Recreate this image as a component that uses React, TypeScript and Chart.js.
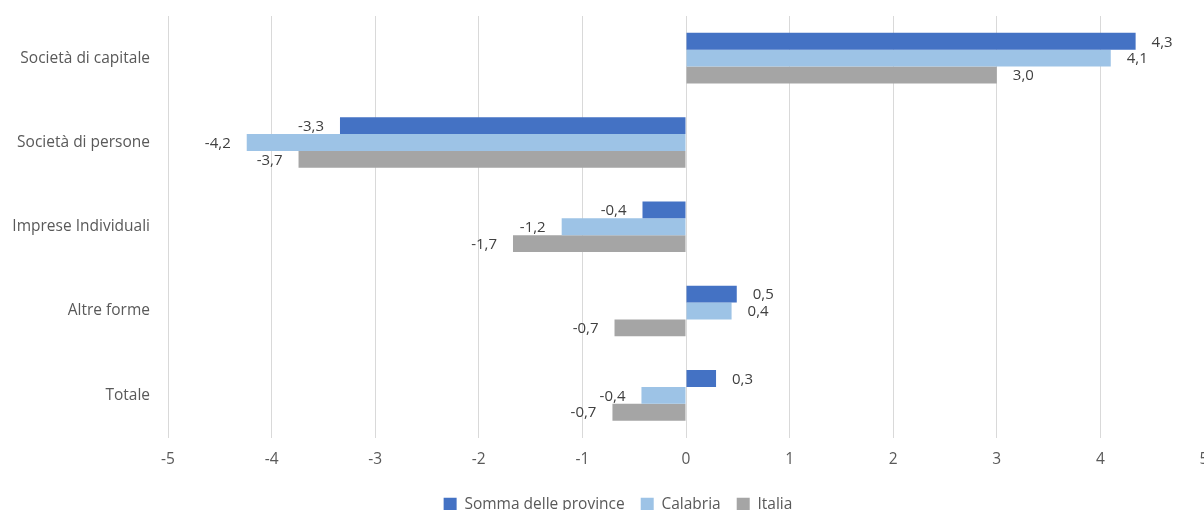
import React, { useEffect, useRef } from 'react';
import { Chart, registerables } from 'chart.js';

Chart.register(...registerables);

const categories = [
  'Società di capitale',
  'Società di persone',
  'Imprese Individuali',
  'Altre forme',
  'Totale',
];
const sommaProvince = [4.34, -3.34, -0.42, 0.49, 0.29];
const calabria = [4.1, -4.24, -1.2, 0.44, -0.43];
const italia = [3.0, -3.74, -1.67, -0.69, -0.71];
const xTicks = [-5, -4, -3, -2, -1, 0, 1, 2, 3, 4, 5];

const FONT = "'Open Sans', sans-serif";
const W = 1204;
const H = 522;

const fmt = (v: number) => v.toFixed(1).replace('.', ',');

const labelPlugin = {
  id: 'valueLabels',
  afterDatasetsDraw(chart: any) {
    const ctx = chart.ctx;
    ctx.save();
    ctx.font = `15px ${FONT}`;
    ctx.fillStyle = '#404040';
    ctx.textBaseline = 'middle';
    chart.data.datasets.forEach((ds: any, di: number) => {
      const meta = chart.getDatasetMeta(di);
      meta.data.forEach((bar: any, i: number) => {
        const v = ds.data[i] as number;
        if (v >= 0) {
          ctx.textAlign = 'left';
          ctx.fillText(fmt(v), bar.x + 16, bar.y + 1);
        } else {
          ctx.textAlign = 'right';
          ctx.fillText(fmt(v), bar.x - 16, bar.y + 1);
        }
      });
    });
    ctx.restore();
  },
};

const legendShift = {
  id: 'legendShift',
  afterLayout(chart: any) {
    if (chart.legend) {
      chart.legend.left += 16;
      chart.legend.right += 16;
    }
  },
};

export default function App() {
  const ref = useRef<HTMLCanvasElement>(null);
  useEffect(() => {
    document.body.style.margin = '0';
    const chart = new Chart(ref.current as HTMLCanvasElement, {
      type: 'bar',
      data: {
        labels: categories,
        datasets: [
          { label: 'Somma delle province', data: sommaProvince, backgroundColor: '#4472C4', barPercentage: 1, categoryPercentage: 0.6 },
          { label: 'Calabria', data: calabria, backgroundColor: '#9DC3E6', barPercentage: 1, categoryPercentage: 0.6 },
          { label: 'Italia', data: italia, backgroundColor: '#A5A5A5', barPercentage: 1, categoryPercentage: 0.6 },
        ],
      },
      options: {
        indexAxis: 'y',
        responsive: false,
        animation: false,
        layout: { padding: { top: 16, right: 0, left: 0, bottom: 0 } },
        scales: {
          x: {
            min: -5,
            max: 5,
            afterBuildTicks: (s: any) => {
              s.ticks = xTicks.map((v) => ({ value: v }));
            },
            ticks: { padding: 13, color: '#595959', font: { family: FONT, size: 15.5 } },
            grid: { color: '#d9d9d9', drawTicks: false, lineWidth: 1 },
            border: { display: false },
            afterFit: (s: any) => {
              s.height = 43;
              s.paddingLeft = 0;
              s.paddingRight = 0;
            },
          },
          y: {
            grid: { display: false, drawTicks: false },
            border: { display: false },
            ticks: { padding: 18, color: '#595959', font: { family: FONT, size: 15.5 } },
            afterFit: (s: any) => {
              s.width = 168;
              s.paddingTop = 0;
              s.paddingBottom = 0;
            },
          },
        },
        plugins: {
          legend: {
            position: 'bottom',
            labels: {
              boxWidth: 13,
              boxHeight: 13,
              padding: 16,
              color: '#595959',
              font: { family: FONT, size: 15.5 },
            },
          },
          tooltip: { enabled: false },
        },
      },
      plugins: [labelPlugin, legendShift],
    } as any);
    return () => chart.destroy();
  }, []);
  return (
    <div style={{ position: 'fixed', left: 0, top: 0, width: 1204, height: 510, overflow: 'hidden', background: '#fff' }}>
      <canvas ref={ref} width={W} height={H} style={{ width: W, height: H, display: 'block' }} />
    </div>
  );
}
